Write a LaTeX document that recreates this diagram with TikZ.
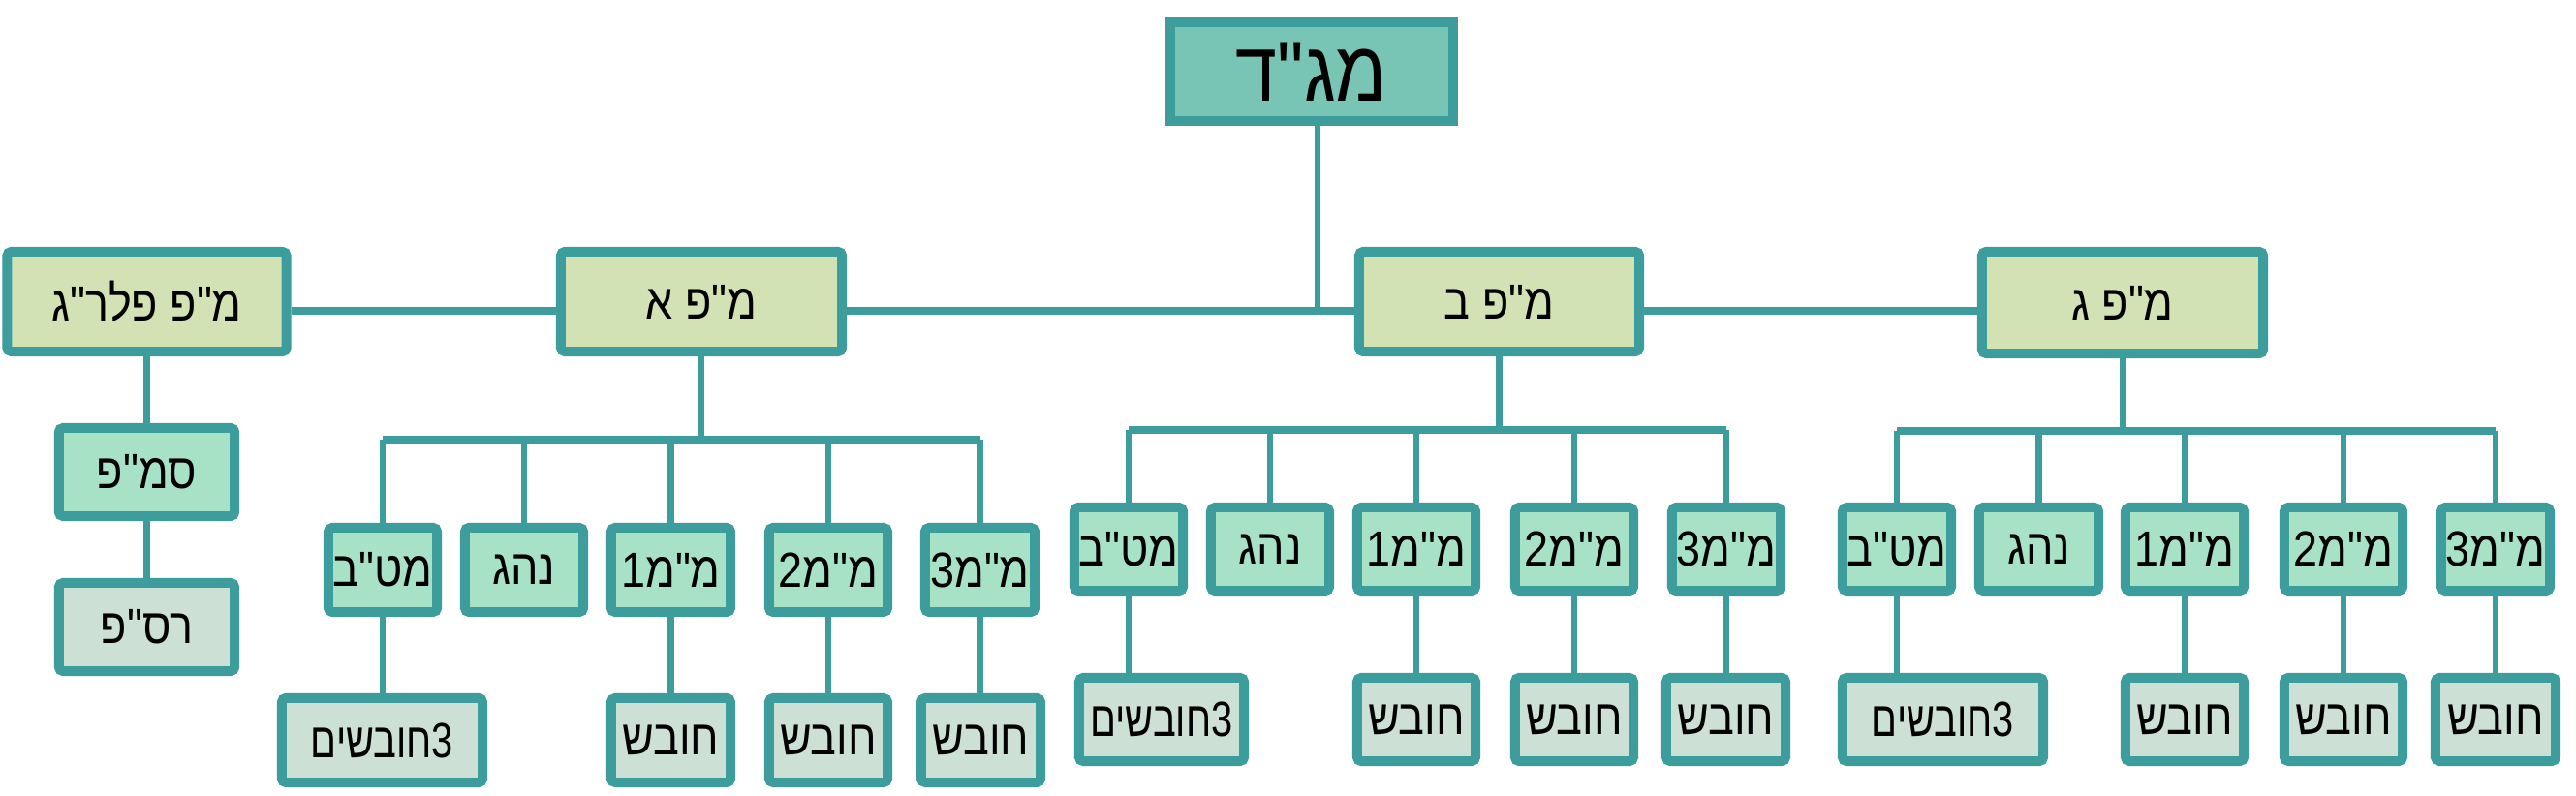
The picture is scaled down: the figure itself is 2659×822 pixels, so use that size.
\documentclass[tikz,border=0pt]{standalone}
\usepackage{fontspec}
\newfontfamily\heb[Script=Hebrew, FakeStretch=0.88]{Liberation Sans}
\newfontfamily\hebn[Script=Hebrew, FakeStretch=0.78]{Liberation Sans}
\TeXXeTstate=1
\definecolor{bord}{HTML}{3D9C9C}
\definecolor{topc}{HTML}{78C5B5}
\definecolor{lvc}{HTML}{D2E2B5}
\definecolor{mint}{HTML}{A8E2C6}
\definecolor{grayc}{HTML}{CDE0D6}
\tikzset{
  box/.style={draw=bord, line width=2.85pt, inner sep=0pt, rounded corners=1.2pt,
    font=\heb\fontsize{14.5}{16}\selectfont},
  topbox/.style={box, fill=topc, sharp corners, font=\heb\fontsize{25}{27}\selectfont},
  lvtwo/.style={box, fill=lvc},
  unitbox/.style={box, fill=mint},
  leafbox/.style={box, fill=grayc},
  wideleaf/.style={leafbox, font=\hebn\fontsize{14.5}{16}\selectfont},
  conn/.style={draw=bord, line width=1.8pt},
  busline/.style={draw=bord, line width=2pt}
}
\newcommand\RL[1]{\beginR #1\endR}
\begin{document}
\begin{tikzpicture}[x=0.01cm,y=-0.01cm]
\fill[white] (0,0) rectangle (2659,822);
\useasboundingbox (0,0) rectangle (2659,822);

% top
\node[topbox, minimum width=2.92cm, minimum height=1.02cm] (mgd) at (1354,74) {\RL{מג"ד}};

% level 2
\node[lvtwo, minimum width=2.88cm, minimum height=1.03cm] (plrg) at (151.5,311.5) {\RL{מ"פ פלר"ג}};
\node[lvtwo, minimum width=2.90cm, minimum height=1.03cm] (A) at (724,311.5) {\RL{מ"פ א}};
\node[lvtwo, minimum width=2.89cm, minimum height=1.03cm] (B) at (1547.5,311.5) {\RL{מ"פ ב}};
\node[lvtwo, minimum width=2.90cm, minimum height=1.05cm] (G) at (2191,312.5) {\RL{מ"פ ג}};

\coordinate (hl) at (0,321);
\coordinate (j0) at (1360,321);
\draw[busline] (plrg.east |- hl) -- (A.west |- hl);
\draw[busline] (A.east |- hl) -- (B.west |- hl);
\draw[busline] (B.east |- hl) -- (G.west |- hl);
\draw[conn] (mgd.south -| j0) -- (j0);

% plrg chain
\node[unitbox, minimum width=1.81cm, minimum height=0.91cm] (smp) at (151.5,487.5) {\RL{סמ"פ}};
\node[leafbox, minimum width=1.81cm, minimum height=0.91cm] (rsp) at (151.5,647.5) {\RL{רס"פ}};
\draw[conn] (plrg.south) -- (smp.north);
\draw[conn] (smp.south) -- (rsp.north);

% group A
\node[unitbox, minimum width=1.12cm, minimum height=0.87cm] (A1) at (395,588.5) {\RL{מט"ב}};
\node[unitbox, minimum width=1.22cm, minimum height=0.87cm] (A2) at (541,588.5) {\RL{נהג}};
\node[unitbox, minimum width=1.23cm, minimum height=0.87cm] (A3) at (692.5,588.5) {\RL{מ"מ1}};
\node[unitbox, minimum width=1.22cm, minimum height=0.87cm] (A4) at (855,588.5) {\RL{מ"מ2}};
\node[unitbox, minimum width=1.13cm, minimum height=0.87cm] (A5) at (1011.5,588.5) {\RL{מ"מ3}};
\node[wideleaf, minimum width=2.07cm, minimum height=0.87cm] (A1g) at (394.5,764.5) {\RL{3חובשים}};
\node[leafbox, minimum width=1.23cm, minimum height=0.87cm] (A3g) at (692.5,764.5) {\RL{חובש}};
\node[leafbox, minimum width=1.22cm, minimum height=0.87cm] (A4g) at (855,764.5) {\RL{חובש}};
\node[leafbox, minimum width=1.23cm, minimum height=0.87cm] (A5g) at (1012.5,764.5) {\RL{חובש}};
\coordinate (Abus) at (724,454);
\draw[conn] (A.south) -- (Abus);
\draw[busline] (A1.north |- Abus) -- (A5.north |- Abus);
\foreach \n in {A1,A2,A3,A4,A5} \draw[conn] (\n.north) -- (\n.north |- Abus);
\foreach \n in {A1,A3,A4,A5} \draw[conn] (\n.south) -- (\n.south |- \n g.north);

% group B
\node[unitbox, minimum width=1.12cm, minimum height=0.86cm] (B1) at (1165,567) {\RL{מט"ב}};
\node[unitbox, minimum width=1.22cm, minimum height=0.86cm] (B2) at (1311,567) {\RL{נהג}};
\node[unitbox, minimum width=1.22cm, minimum height=0.86cm] (B3) at (1462,567) {\RL{מ"מ1}};
\node[unitbox, minimum width=1.22cm, minimum height=0.86cm] (B4) at (1625,567) {\RL{מ"מ2}};
\node[unitbox, minimum width=1.12cm, minimum height=0.86cm] (B5) at (1782,567) {\RL{מ"מ3}};
\node[wideleaf, minimum width=1.70cm, minimum height=0.86cm] (B1g) at (1199,743) {\RL{3חובשים}};
\node[leafbox, minimum width=1.22cm, minimum height=0.86cm] (B3g) at (1462,743) {\RL{חובש}};
\node[leafbox, minimum width=1.22cm, minimum height=0.86cm] (B4g) at (1625,743) {\RL{חובש}};
\node[leafbox, minimum width=1.23cm, minimum height=0.86cm] (B5g) at (1781.5,743) {\RL{חובש}};
\coordinate (Bbus) at (1547.5,444);
\draw[conn] (B.south) -- (Bbus);
\draw[busline] (B1.north |- Bbus) -- (B5.north |- Bbus);
\foreach \n in {B1,B2,B3,B4,B5} \draw[conn] (\n.north) -- (\n.north |- Bbus);
\foreach \n in {B1,B3,B4,B5} \draw[conn] (\n.south) -- (\n.south |- \n g.north);

% group G
\node[unitbox, minimum width=1.12cm, minimum height=0.86cm] (G1) at (1958,567) {\RL{מט"ב}};
\node[unitbox, minimum width=1.23cm, minimum height=0.86cm] (G2) at (2104.5,567) {\RL{נהג}};
\node[unitbox, minimum width=1.22cm, minimum height=0.86cm] (G3) at (2255,567) {\RL{מ"מ1}};
\node[unitbox, minimum width=1.22cm, minimum height=0.86cm] (G4) at (2419,567) {\RL{מ"מ2}};
\node[unitbox, minimum width=1.12cm, minimum height=0.86cm] (G5) at (2576,567) {\RL{מ"מ3}};
\node[wideleaf, minimum width=2.07cm, minimum height=0.86cm] (G1g) at (2005.5,743) {\RL{3חובשים}};
\node[leafbox, minimum width=1.22cm, minimum height=0.86cm] (G3g) at (2255,743) {\RL{חובש}};
\node[leafbox, minimum width=1.22cm, minimum height=0.86cm] (G4g) at (2419,743) {\RL{חובש}};
\node[leafbox, minimum width=1.24cm, minimum height=0.86cm] (G5g) at (2576,743) {\RL{חובש}};
\coordinate (Gbus) at (2191,445);
\draw[conn] (G.south) -- (Gbus);
\draw[busline] (G1.north |- Gbus) -- (G5.north |- Gbus);
\foreach \n in {G1,G2,G3,G4,G5} \draw[conn] (\n.north) -- (\n.north |- Gbus);
\foreach \n in {G1,G3,G4,G5} \draw[conn] (\n.south) -- (\n.south |- \n g.north);
\end{tikzpicture}
\end{document}
